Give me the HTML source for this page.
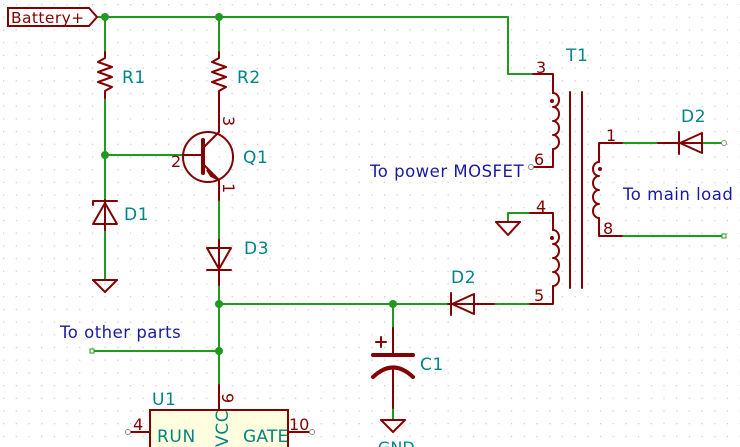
<!DOCTYPE html>
<html><head><meta charset="utf-8"><style>
html,body{margin:0;padding:0;background:#fff;}
svg{display:block;}
text{font-family:"DejaVu Sans","Liberation Sans",sans-serif;}
</style></head><body>
<svg width="740" height="447" viewBox="0 0 740 447" xmlns="http://www.w3.org/2000/svg">
<defs>
<pattern id="g" width="12.7" height="12.7" patternUnits="userSpaceOnUse" x="3" y="4">
<rect x="0" y="0" width="1.2" height="1.2" fill="#c8c8c8"/>
</pattern>
</defs>
<rect width="740" height="447" fill="#fff"/>
<rect width="740" height="447" fill="url(#g)"/>
<g fill="none" stroke-width="2" stroke-linecap="round" stroke-linejoin="round">
<g stroke="#1f9a1f">
<polyline points="97,17 508,17 508,74 533,74"/>
<line x1="105" y1="17" x2="105" y2="52"/>
<line x1="219" y1="17" x2="219" y2="52"/>
<line x1="105" y1="98" x2="105" y2="200"/>
<line x1="105" y1="155" x2="183" y2="155"/>
<line x1="105" y1="230" x2="105" y2="280"/>
<line x1="219" y1="200" x2="219" y2="240"/>
<line x1="219" y1="285" x2="219" y2="385"/>
<line x1="219" y1="304" x2="448" y2="304"/>
<line x1="494" y1="304" x2="530" y2="304"/>
<line x1="92" y1="351" x2="219" y2="351"/>
<line x1="393" y1="304" x2="393" y2="328"/>
<line x1="393" y1="408" x2="393" y2="420"/>
<polyline points="508,222 508,213 530,213"/>
<line x1="622" y1="143" x2="658" y2="143"/>
<line x1="702" y1="143" x2="722" y2="143"/>
<line x1="622" y1="236" x2="722" y2="236"/>
</g>
<g stroke="#840000">
<polyline points="105,52 105,58 98,62 112,67 98,72 112,77 98,82 112,87 105,91 105,98"/>
<polyline points="219,52 219,58 212,62 226,67 212,72 226,77 212,82 226,87 219,91 219,132"/>
<circle cx="208" cy="157" r="25"/>
<line x1="183" y1="155" x2="203" y2="155"/>
<line x1="203" y1="140" x2="203" y2="173" stroke-width="4"/>
<line x1="203" y1="148" x2="219" y2="132"/>
<line x1="203" y1="164" x2="219" y2="180"/>
<line x1="219" y1="180" x2="219" y2="200"/>
<line x1="105" y1="200" x2="105" y2="230"/>
<polyline points="93,224 117,224 105,203 93,224"/>
<polyline points="93,205 93,201 117,201"/>
<line x1="93" y1="280" x2="117" y2="280"/>
<polyline points="93,280 105,292 117,280"/>
<line x1="219" y1="240" x2="219" y2="285"/>
<polygon points="207,248 231,248 219,269"/>
<line x1="207" y1="270" x2="231" y2="270"/>
<polyline points="533,74 553,74 553,93"/>
<path d="M553,93 a6,7 0 0 1 0,14 a6,7 0 0 1 0,14 a6,7 0 0 1 0,14 a6,7 0 0 1 0,14"/>
<polyline points="553,149 553,167 532,167"/>
<line x1="570" y1="92" x2="570" y2="288"/>
<line x1="582" y1="92" x2="582" y2="288"/>
<polyline points="530,213 553,213 553,230"/>
<path d="M553,230 a6,7 0 0 1 0,14 a6,7 0 0 1 0,14 a6,7 0 0 1 0,14 a6,7 0 0 1 0,14"/>
<polyline points="553,286 553,304 530,304"/>
<line x1="496" y1="222" x2="520" y2="222"/>
<polyline points="496,222 508,235 520,222"/>
<polyline points="622,143 599,143 599,162"/>
<path d="M599,162 a6,7 0 0 0 0,14 a6,7 0 0 0 0,14 a6,7 0 0 0 0,14 a6,7 0 0 0 0,14"/>
<polyline points="599,218 599,236 622,236"/>
<line x1="658" y1="143" x2="702" y2="143"/>
<polygon points="702,133 702,153 680,143"/>
<line x1="679" y1="132" x2="679" y2="154"/>
<line x1="448" y1="304" x2="494" y2="304"/>
<polygon points="474,294 474,314 452,304"/>
<line x1="451" y1="293" x2="451" y2="315"/>
<line x1="393" y1="328" x2="393" y2="355"/>
<line x1="373" y1="355" x2="413" y2="355" stroke-width="4"/>
<path d="M373,377 Q393,358 413,377" stroke-width="4"/>
<line x1="393" y1="368" x2="393" y2="408"/>
<line x1="381" y1="420" x2="405" y2="420"/>
<polyline points="381,420 393,432 405,420"/>
<line x1="376" y1="342" x2="386" y2="342" stroke-width="2"/>
<line x1="381" y1="337" x2="381" y2="347" stroke-width="2"/>
<line x1="219" y1="385" x2="219" y2="410"/>
<line x1="130" y1="432" x2="150" y2="432"/>
<line x1="288" y1="432" x2="310" y2="432"/>
</g>
</g>
<polygon points="207,170 219,180 211,176" fill="#840000" stroke="#840000" stroke-width="2"/>
<rect x="150" y="410" width="138" height="40" fill="#ffffe0" stroke="#840000" stroke-width="2"/>
<g fill="#1f9a1f">
<circle cx="105" cy="17" r="4"/><circle cx="219" cy="17" r="4"/>
<circle cx="105" cy="155" r="4"/><circle cx="219" cy="304" r="4"/>
<circle cx="219" cy="351" r="4"/><circle cx="393" cy="304" r="4"/>
</g>
<g fill="#fff" stroke="#888" stroke-width="1">
<circle cx="531" cy="167" r="2.5"/><circle cx="724" cy="143" r="2.5"/>
<rect x="722" y="234" width="4" height="4" stroke="#1f9a1f"/>
<rect x="90" y="349" width="4" height="4" stroke="#1f9a1f"/>
<circle cx="128" cy="432" r="2.5"/><circle cx="312" cy="432" r="2.5"/>
</g>
<g fill="#840000"><circle cx="552" cy="101" r="2"/><circle cx="552" cy="238" r="2"/><circle cx="600" cy="169" r="2"/></g>
<polygon points="8,8 89,8 97,17 89,26 8,26" fill="#fff" stroke="#840000" stroke-width="2"/>
<text x="11" y="23" font-size="15.5" fill="#840000" letter-spacing="0.4">Battery+</text>
<g font-size="17" fill="#008484" letter-spacing="0.6">
<text x="122" y="83">R1</text><text x="237" y="83">R2</text>
<text x="243" y="163">Q1</text><text x="124" y="220">D1</text>
<text x="244" y="254">D3</text><text x="566" y="61">T1</text>
<text x="681" y="122">D2</text><text x="451" y="283">D2</text>
<text x="420" y="370">C1</text><text x="152" y="405">U1</text>
<text x="157" y="442">RUN</text><text x="243" y="442" letter-spacing="0.2">GATE</text>
<text x="228" y="447" transform="rotate(-90 228 447)">VCC</text>
</g>
<g font-size="16" fill="#840000">
<text x="536" y="73">3</text><text x="534" y="165">6</text>
<text x="536" y="212">4</text><text x="534" y="301">5</text>
<text x="606" y="141">1</text><text x="603" y="234">8</text>
<text x="171" y="167">2</text><text x="133" y="430">4</text>
<text x="289" y="430">10</text>
<text x="223" y="116" transform="rotate(90 223 116)">3</text>
<text x="223" y="183" transform="rotate(90 223 183)">1</text>
<text x="222" y="393" transform="rotate(90 222 393)">9</text>
</g>
<g font-size="16.5" fill="#1a1aa0" letter-spacing="0.5">
<text x="370" y="177">To power MOSFET</text>
<text x="623" y="200">To main load</text>
<text x="60" y="338">To other parts</text>
</g>
<text x="378" y="453" font-size="16" fill="#008484">GND</text>
</svg>
</body></html>
